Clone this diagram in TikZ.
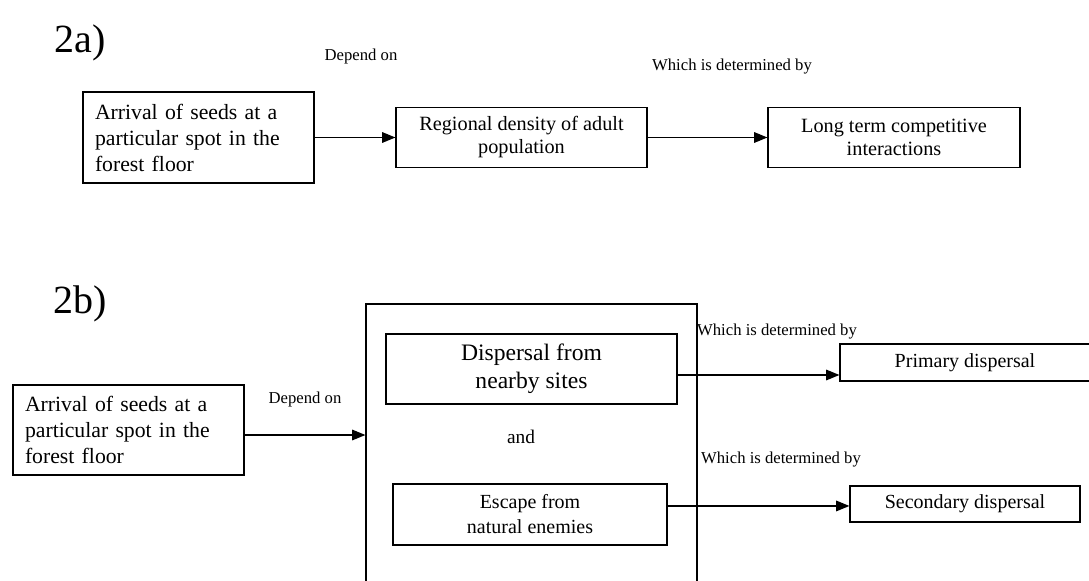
\documentclass[tikz,border=0pt]{standalone}
\usepackage{fontspec}
\setmainfont{Liberation Serif}
\usetikzlibrary{arrows.meta}

\begin{document}
\begin{tikzpicture}[x=0.75pt,y=-0.75pt,line width=0.9pt,
    box/.style={draw,inner sep=0pt,align=center},
    lbl/.style={font=\fontsize{12.5}{15}\selectfont},
    arr/.style={-{Triangle[length=10pt,width=8pt]}}]
    \useasboundingbox (0,0) rectangle (1089,581);
    \clip (0,0) rectangle (1089,581);

    % 2a
    \node[font=\fontsize{30}{36}\selectfont] (tagA) at (80,43) {2a)};
    \node[box,align=left,inner xsep=9pt,text width=155.25pt,minimum height=68.25pt,
        font=\fontsize{16.3}{19.5}\selectfont] (seedsA) at (198.5,137.5)
        {Arrival of seeds at a\\particular spot in the\\forest floor};
    \node[box,minimum width=188.25pt,minimum height=45pt,
        font=\fontsize{15.2}{17.25}\selectfont] (density) at (521.5,137.5)
        {Regional density of adult\\population};
    \node[box,minimum width=189pt,minimum height=45pt,
        font=\fontsize{15.2}{17.25}\selectfont] (compete) at (894,137.5)
        {Long term competitive\\interactions};
    \draw[arr] (seedsA) -- (density);
    \draw[arr] (density) -- (compete);
    \node[lbl] (depA) at (361,56) {Depend on};
    \node[lbl] (whichA) at (732,67) {Which is determined by};

    % 2b
    \node[font=\fontsize{30}{36}\selectfont] (tagB) at (80,304) {2b)};
    \node[box,align=left,inner xsep=9pt,text width=155.25pt,minimum height=67.5pt,
        font=\fontsize{16.3}{19.5}\selectfont] (seedsB) at (128.5,430)
        {Arrival of seeds at a\\particular spot in the\\forest floor};
    \node[box,minimum width=248.25pt,minimum height=237pt] (outer) at (531.5,462) {};
    \node[box,minimum width=218.25pt,minimum height=52.5pt,
        font=\fontsize{17.7}{21}\selectfont] (nearby) at (531.5,369)
        {Dispersal from\\nearby sites};
    \node[font=\fontsize{14.5}{17}\selectfont] (and) at (521,437) {and};
    \node[box,minimum width=205.5pt,minimum height=45.75pt,
        font=\fontsize{15}{18.75}\selectfont] (enemies) at (530,514.5)
        {Escape from\\natural enemies};
    \node[box,minimum width=187.5pt,minimum height=27.75pt,
        font=\fontsize{15}{18}\selectfont] (primary) at (965,362.5) {Primary dispersal};
    \node[box,minimum width=172.5pt,minimum height=27pt,
        font=\fontsize{15}{18}\selectfont] (second) at (965,504) {Secondary dispersal};
    \draw[arr] ([yshift=-3.75pt]seedsB.east) -- ([yshift=-3.75pt]seedsB.east -| outer.west);
    \draw[arr] ([yshift=-4.5pt]nearby.east) -- ([yshift=-4.5pt]nearby.east -| primary.west);
    \draw[arr] ([yshift=6.4pt]enemies.east) -- ([yshift=6.4pt]enemies.east -| second.west);
    \node[lbl] (depB) at (305,399) {Depend on};
    \node[lbl] (whichB1) at (777,332) {Which is determined by};
    \node[lbl] (whichB2) at (781,460) {Which is determined by};
\end{tikzpicture}
\end{document}
